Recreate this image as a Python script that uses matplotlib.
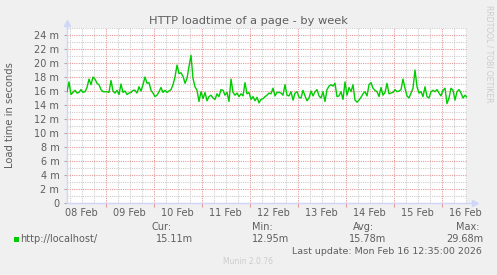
import numpy as np
import pandas as pd
import matplotlib
matplotlib.use("Agg")
import matplotlib.pyplot as plt
import matplotlib.dates as mdates
from matplotlib.patches import Rectangle
from matplotlib.ticker import MultipleLocator, FuncFormatter

# ===== 데이터 (hourly load time in ms) =====
load_ms = [
    15.9, 17.3, 15.5, 15.8, 16.1, 15.7, 15.8, 16.2, 15.8, 15.9, 16.5, 17.7, 16.9, 18.0, 17.7, 17.1, 16.9,
    16.2, 15.9, 15.9, 15.9, 15.8, 17.5, 16.0, 15.7, 16.1, 15.5, 17.0, 15.8, 16.0, 15.5, 15.7, 15.8, 16.1,
    16.1, 15.7, 16.6, 16.0, 16.9, 18.0, 17.1, 17.2, 16.1, 15.7, 15.2, 15.4, 15.9, 16.5, 15.8, 16.1, 15.8,
    16.0, 16.2, 16.9, 18.0, 19.7, 18.5, 18.6, 18.1, 17.1, 17.8, 19.5, 21.1, 17.8, 16.6, 16.1, 14.5, 15.9,
    14.9, 15.8, 14.6, 15.2, 15.4, 15.0, 14.8, 15.6, 15.2, 16.2, 16.1, 15.4, 15.8, 14.5, 17.7, 15.8, 15.4,
    15.7, 15.2, 15.6, 15.3, 17.2, 15.6, 15.8, 14.8, 15.2, 14.6, 15.1, 14.3, 14.8, 14.9, 15.2, 15.4, 15.7,
    15.6, 16.4, 15.3, 15.8, 15.8, 15.7, 15.4, 16.9, 15.4, 15.3, 15.9, 14.7, 15.7, 15.9, 15.1, 15.0, 16.1,
    15.3, 14.6, 15.0, 16.0, 15.3, 15.9, 16.2, 15.3, 15.0, 15.9, 14.5, 16.2, 16.7, 16.9, 16.7, 17.1, 15.2,
    15.3, 15.9, 14.8, 17.3, 15.4, 16.5, 15.9, 16.9, 14.7, 14.4, 14.7, 15.1, 15.6, 15.9, 15.3, 16.9, 17.2,
    16.4, 16.1, 15.9, 15.2, 16.5, 15.4, 15.8, 17.1, 15.6, 15.7, 15.8, 16.2, 15.9, 16.0, 16.2, 17.7, 16.4,
    15.3, 15.0, 15.7, 16.4, 19.0, 16.6, 15.7, 15.9, 15.2, 16.6, 15.2, 15.0, 15.9, 16.1, 15.9, 16.2, 15.7,
    15.3, 16.1, 16.4, 14.2, 15.0, 16.4, 16.1, 14.7, 15.9, 16.2, 15.7, 15.0, 15.4, 15.1,
]
start_time = "2026-02-08 04:35"
end_time = "2026-02-16 12:35"
day_labels = ["08 Feb", "09 Feb", "10 Feb", "11 Feb", "12 Feb", "13 Feb", "14 Feb", "15 Feb", "16 Feb"]
stat_names = ["Cur:", "Min:", "Avg:", "Max:"]
stat_values = ["15.11m", "12.95m", "15.78m", "29.68m"]
series_name = "http://localhost/"

# ===== 색상 (munin 기본) =====
BACK = "#F0F0F0"
FONT = "#5E5E5E"
AXIS = "#CFD6F8"
GRID = "#CDCDCD"
MGRID = "#E59A9A"
LINE = "#00CC00"

W, H = 497, 275


def fx(x):
    return x / W


def fy(y):
    return 1 - y / H


fig = plt.figure(figsize=(W / 100, H / 100), dpi=100, facecolor=BACK)
ax = fig.add_axes([fx(67), fy(203), 400 / W, 175 / H], facecolor="white")

times = pd.date_range(start_time, periods=len(load_ms), freq="h")
ax.plot(times, load_ms, color=LINE, lw=1.0, zorder=3)

ax.set_xlim(pd.Timestamp(start_time), pd.Timestamp(end_time))
ax.set_ylim(0, 25)

# 격자: 6시간/1m 보조, 하루/2m 주
ax.xaxis.set_major_locator(mdates.DayLocator())
ax.xaxis.set_minor_locator(mdates.HourLocator(byhour=[0, 6, 12, 18]))
ax.xaxis.set_major_formatter(plt.NullFormatter())
ax.yaxis.set_major_locator(MultipleLocator(2))
ax.yaxis.set_minor_locator(MultipleLocator(1))
ax.yaxis.set_major_formatter(FuncFormatter(lambda v, p: "0" if v == 0 else f"{v:.0f} m"))

ax.grid(which="minor", color=GRID, lw=0.8, linestyle=(0, (1, 1)))
ax.grid(which="major", color=MGRID, lw=0.8, linestyle=(0, (1, 1)))
ax.set_axisbelow(True)

ax.tick_params(axis="both", which="both", direction="out", labelsize=7, labelcolor=FONT)
ax.tick_params(axis="x", which="major", length=3, color=MGRID, width=0.8)
ax.tick_params(axis="x", which="minor", length=0)
ax.tick_params(axis="y", which="major", length=2.5, color="#AAAAAA", width=0.8, pad=3)
ax.tick_params(axis="y", which="minor", length=0)

for s in ["top", "right"]:
    ax.spines[s].set_visible(False)
for s in ["left", "bottom"]:
    ax.spines[s].set_color(AXIS)
    ax.spines[s].set_linewidth(1.0)

# 축 화살표
ax.plot([1, 1.02], [0, 0], color=AXIS, lw=1, transform=ax.transAxes, clip_on=False)
ax.plot([1.02], [0], marker=">", ms=4, color=AXIS, transform=ax.transAxes, clip_on=False)
ax.plot([0, 0], [1, 1.03], color=AXIS, lw=1, transform=ax.transAxes, clip_on=False)
ax.plot([0], [1.03], marker="^", ms=4, color=AXIS, transform=ax.transAxes, clip_on=False)

# 날짜 라벨 (정오 위치)
noon = pd.Timestamp("2026-02-08 12:00")
for i, lab in enumerate(day_labels):
    ax.text(noon + pd.Timedelta(days=i), -0.055, lab, transform=ax.get_xaxis_transform(),
            ha="center", va="center", fontsize=7, color=FONT)

fig.text(fx(248), fy(21.5), "HTTP loadtime of a page - by week", ha="center", va="center",
         fontsize=8.2, color=FONT)
fig.text(fx(10), fy(115), "Load time in seconds", rotation=90, ha="center", va="center",
         fontsize=7.2, color=FONT)
fig.text(fx(489), fy(5), "RRDTOOL / TOBI OETIKER", rotation=270, ha="center", va="top",
         fontsize=5.5, color="#CCCCCC")

# 범례
fig.add_artist(Rectangle((fx(14), fy(242)), 5 / W, 5 / H, transform=fig.transFigure,
                         color=LINE, lw=0))
fig.text(fx(20), fy(239), series_name, ha="left", va="center", fontsize=7, color=FONT)
name_x = [151, 252, 353, 456]
val_right = [193, 289, 386, 483]
for nx, vr, nm, val in zip(name_x, val_right, stat_names, stat_values):
    fig.text(fx(nx), fy(227), nm, ha="left", va="center", fontsize=7, color=FONT)
    fig.text(fx(vr), fy(239), val, ha="right", va="center", fontsize=7, color=FONT)
fig.text(fx(482), fy(251), "Last update: Mon Feb 16 12:35:00 2026", ha="right", va="center",
         fontsize=6.8, color=FONT)
fig.text(fx(248), fy(262), "Munin 2.0.76", ha="center", va="center", fontsize=5.5, color="#CCCCCC")

fig.savefig("out.png", dpi=100, facecolor=BACK)
